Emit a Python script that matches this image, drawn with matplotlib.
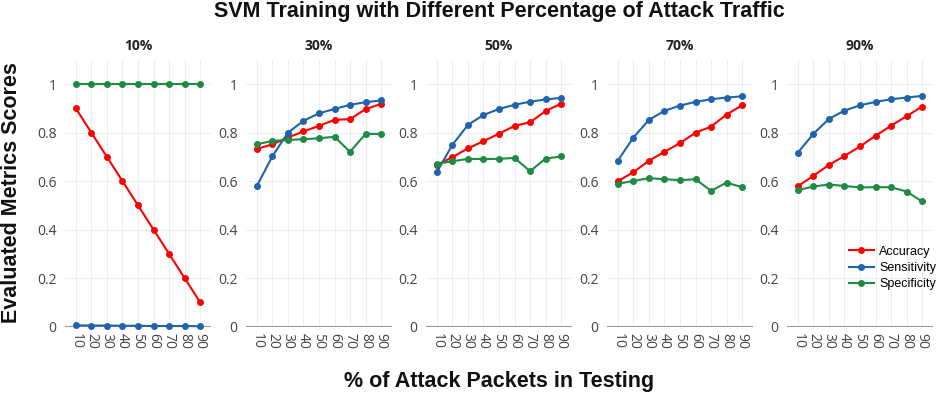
import matplotlib.pyplot as plt
import numpy as np

pct_train = ["10%", "30%", "50%", "70%", "90%"]
pct_test = [10, 20, 30, 40, 50, 60, 70, 80, 90]

accuracy = [
    [0.90, 0.80, 0.70, 0.60, 0.50, 0.40, 0.30, 0.20, 0.10],
    [0.733, 0.752, 0.780, 0.805, 0.828, 0.853, 0.856, 0.897, 0.919],
    [0.667, 0.699, 0.735, 0.765, 0.796, 0.828, 0.843, 0.889, 0.920],
    [0.600, 0.637, 0.684, 0.721, 0.757, 0.800, 0.825, 0.875, 0.913],
    [0.579, 0.622, 0.667, 0.704, 0.743, 0.787, 0.829, 0.868, 0.908],
]
sensitivity = [
    [0.005, 0.004, 0.004, 0.003, 0.003, 0.002, 0.002, 0.002, 0.001],
    [0.580, 0.703, 0.800, 0.849, 0.880, 0.898, 0.915, 0.926, 0.933],
    [0.637, 0.750, 0.832, 0.873, 0.898, 0.915, 0.928, 0.937, 0.944],
    [0.685, 0.780, 0.853, 0.890, 0.912, 0.927, 0.938, 0.945, 0.950],
    [0.718, 0.795, 0.857, 0.891, 0.913, 0.927, 0.938, 0.945, 0.952],
]
specificity = [
    [1.0, 1.0, 1.0, 1.0, 1.0, 1.0, 1.0, 1.0, 1.0],
    [0.752, 0.766, 0.770, 0.773, 0.777, 0.783, 0.721, 0.795, 0.795],
    [0.671, 0.682, 0.692, 0.691, 0.692, 0.696, 0.641, 0.693, 0.702],
    [0.589, 0.601, 0.612, 0.608, 0.604, 0.608, 0.560, 0.594, 0.575],
    [0.563, 0.578, 0.586, 0.580, 0.574, 0.575, 0.575, 0.557, 0.516],
]

series = [("Accuracy", accuracy, "#ff0000"),
          ("Sensitivity", sensitivity, "#1f63ad"),
          ("Specificity", specificity, "#1e8a44")]

W, H = 937, 394
fig = plt.figure(figsize=(W / 100, H / 100), dpi=100)

lefts = [65, 246, 426, 607, 787]
pw = 146
bottom, top = 326.5, 60

tick_font = "Open Sans"
handles = []
for i, name in enumerate(pct_train):
    ax = fig.add_axes([lefts[i] / W, (H - bottom) / H, pw / W, (bottom - top) / H])
    for label, data, col in series:
        h, = ax.plot(pct_test, data[i], color=col, lw=1.5, marker="o", ms=4,
                     clip_on=False, zorder=3, label=label)
        if i == 0:
            handles.append(h)
    ax.set_xlim(3, 97)
    ax.set_ylim(0, 1.1)
    ax.set_xticks(pct_test)
    ax.set_yticks([0, 0.2, 0.4, 0.6, 0.8, 1.0])
    ax.set_yticklabels(["0", "0.2", "0.4", "0.6", "0.8", "1"])
    ax.grid(True, color="#eeeeee", lw=0.8, zorder=0)
    ax.set_axisbelow(True)
    for s in ax.spines.values():
        s.set_visible(False)
    ax.axhline(0, color="#999999", lw=1.5, zorder=2)
    ax.tick_params(length=0, labelcolor="#444444", labelsize=10, pad=6)
    ax.tick_params(axis="x", labelrotation=-90, pad=5)
    for t in ax.get_xticklabels() + ax.get_yticklabels():
        t.set_family(tick_font)
    ax.set_title(name, fontsize=10, fontweight="bold", family="Open Sans",
                 color="#222222", pad=7)
    if i == 4:
        ax.legend(handles=handles, loc="center left",
                  bbox_to_anchor=(849 / W, 1 - 268 / H),
                  bbox_transform=fig.transFigure, frameon=False,
                  prop={"family": "Liberation Sans", "size": 9},
                  handlelength=2.0, handletextpad=0.4, labelspacing=0.35,
                  borderaxespad=0, borderpad=0)

fig.text(499 / W, 1 - 12 / H, "SVM Training with Different Percentage of Attack Traffic",
         ha="center", va="center", fontsize=15.5, fontweight="bold",
         family="Liberation Sans", color="#111111")
fig.text(499 / W, 1 - 382 / H, "% of Attack Packets in Testing",
         ha="center", va="center", fontsize=15.5, fontweight="bold",
         family="Liberation Sans", color="#111111")
fig.text(12 / W, 1 - 193 / H, "Evaluated Metrics Scores", rotation=90,
         ha="center", va="center", fontsize=15.5, fontweight="bold",
         family="Liberation Sans", color="#111111")

fig.savefig("out.png", dpi=100)
